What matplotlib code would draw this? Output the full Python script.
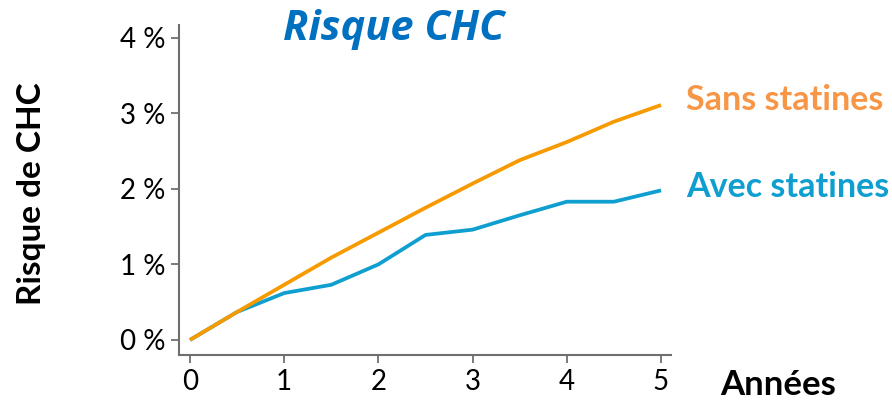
import matplotlib
matplotlib.use("Agg")
import matplotlib.pyplot as plt

years = [0, 0.5, 1, 1.5, 2, 2.5, 3, 3.5, 4, 4.5, 5]
sans_statines = [0, 0.37, 0.73, 1.09, 1.42, 1.75, 2.07, 2.38, 2.62, 2.89, 3.11]
avec_statines = [0, 0.37, 0.62, 0.73, 1.0, 1.39, 1.46, 1.65, 1.83, 1.83, 1.98]
x_ticks = [0, 1, 2, 3, 4, 5]
y_ticks = [0, 1, 2, 3, 4]
y_tick_labels = ["0 %", "1 %", "2 %", "3 %", "4 %"]

plt.rcParams['font.family'] = ['Lato', 'DejaVu Sans']

fig = plt.figure(figsize=(8.92, 4.04), dpi=100)
ax = fig.add_axes([179/892, 1-355/404, (671-179)/892, (355-25)/404])

orange = '#F79A00'
blue = '#0E9FD0'
ax.plot(years, avec_statines, color=blue, lw=2.7, solid_capstyle='butt')
ax.plot(years, sans_statines, color=orange, lw=2.7, solid_capstyle='butt')

ax.set_xlim(-0.117, 5.106)
ax.set_ylim(-0.2, 4.17)
ax.set_xticks(x_ticks)
ax.set_yticks(y_ticks)
ax.set_yticklabels(y_tick_labels)
ax.tick_params(labelsize=20, colors='#6f6f6f', labelcolor='black', length=6, width=1.3, pad=4)
for s in ['top', 'right']:
    ax.spines[s].set_visible(False)
for s in ['left', 'bottom']:
    ax.spines[s].set_color('#6f6f6f')
    ax.spines[s].set_linewidth(1.5)

fig.text(31/892, 1-194/404, "Risque de CHC", fontsize=24, fontweight='bold', rotation=90,
         ha='center', va='center')
fig.text(778/892, 1-385/404, "Années", fontsize=25, fontweight='bold', ha='center', va='center')
fig.text(394/892, 1-30/404, "Risque CHC", fontsize=30, fontweight='bold', style='italic',
         color='#0070C0', ha='center', va='center', family=['Open Sans', 'DejaVu Sans'])
fig.text(686/892, 1-100/404, "Sans statines", fontsize=24.5, fontweight='bold', color='#F79646',
         ha='left', va='center')
fig.text(686/892, 1-187/404, "Avec statines", fontsize=24.5, fontweight='bold', color='#0E9FD0',
         ha='left', va='center')

fig.savefig("out.png", dpi=100)
